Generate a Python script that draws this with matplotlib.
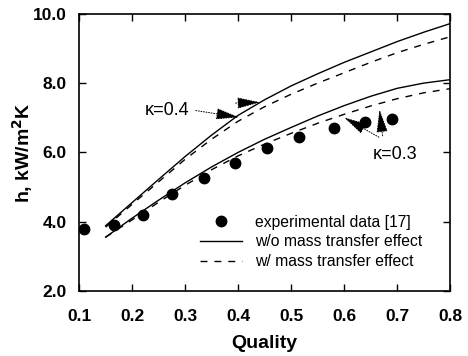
import numpy as np
import matplotlib.pyplot as plt

plt.rcParams['font.family'] = ['Liberation Sans', 'DejaVu Sans']

# experimental data [17]
x_exp = [0.11, 0.165, 0.22, 0.275, 0.335, 0.395, 0.455, 0.515, 0.58, 0.64, 0.69]
h_exp = [3.8, 3.9, 4.2, 4.8, 5.25, 5.7, 6.14, 6.45, 6.7, 6.88, 6.96]

# model curves
x_mod = [0.15, 0.2, 0.25, 0.3, 0.35, 0.4, 0.45, 0.5, 0.55, 0.6, 0.65, 0.7, 0.75, 0.8]
h_k04_wo = [3.88, 4.55, 5.22, 5.88, 6.5, 7.07, 7.52, 7.92, 8.27, 8.6, 8.9, 9.2, 9.47, 9.72]
h_k04_w = [3.84, 4.5, 5.15, 5.8, 6.38, 6.9, 7.32, 7.68, 8.0, 8.3, 8.6, 8.88, 9.12, 9.34]
h_k03_wo = [3.55, 4.1, 4.62, 5.12, 5.58, 6.0, 6.38, 6.72, 7.05, 7.35, 7.62, 7.85, 8.0, 8.1]
h_k03_w = [3.55, 4.05, 4.56, 5.05, 5.5, 5.9, 6.24, 6.55, 6.84, 7.1, 7.34, 7.55, 7.72, 7.84]

fig = plt.figure(figsize=(4.68, 3.56), dpi=100)
ax = fig.add_axes([0.169, 0.183, 0.793, 0.778])

ax.plot(x_exp, h_exp, 'o', color='k', markersize=7.5, label='experimental data [17]')
ax.plot(x_mod, h_k04_wo, '-', color='k', lw=1.0, label='w/o mass transfer effect')
ax.plot(x_mod, h_k04_w, '--', color='k', lw=1.0, dashes=(5, 5), label='w/ mass transfer effect')
ax.plot(x_mod, h_k03_wo, '-', color='k', lw=1.0)
ax.plot(x_mod, h_k03_w, '--', color='k', lw=1.0, dashes=(5, 5))

arrow = dict(arrowstyle='-|>,head_length=0.9,head_width=0.22', linestyle=':',
             color='k', lw=0.7, mutation_scale=16)
ax.annotate('', xy=(0.407, 7.0), xytext=(0.315, 7.22), arrowprops=arrow)
ax.annotate('', xy=(0.447, 7.45), xytext=(0.39, 7.42), arrowprops=arrow)
ax.text(0.265, 7.2, 'κ=0.4', fontsize=13, ha='center', va='center')

ax.annotate('', xy=(0.666, 7.32), xytext=(0.673, 6.4), arrowprops=arrow)
ax.annotate('', xy=(0.595, 7.05), xytext=(0.67, 6.4), arrowprops=arrow)
ax.text(0.696, 5.93, 'κ=0.3', fontsize=13, ha='center', va='center')

ax.set_xlim(0.1, 0.8)
ax.set_ylim(2.0, 10.0)
ax.set_xticks(np.arange(0.1, 0.81, 0.1))
ax.set_yticks(np.arange(2.0, 10.01, 2.0))
ax.set_xticklabels(['0.1', '0.2', '0.3', '0.4', '0.5', '0.6', '0.7', '0.8'])
ax.set_yticklabels(['2.0', '4.0', '6.0', '8.0', '10.0'])
ax.tick_params(direction='in', top=True, right=True, length=5, width=1.0,
               labelsize=12.5)
ax.tick_params(axis='x', pad=13)
ax.tick_params(axis='y', pad=9)
for lab in ax.get_xticklabels() + ax.get_yticklabels():
    lab.set_fontweight('bold')
for s in ax.spines.values():
    s.set_linewidth(1.2)

ax.set_xlabel('Quality', fontsize=14, fontweight='bold', labelpad=8)
ax.set_ylabel('h, kW/m$\\mathbf{^2}$K', fontsize=14, fontweight='bold', labelpad=-2)

ax.legend(loc='upper left', bbox_to_anchor=(0.326, 0.275), frameon=False,
          fontsize=11.3, handlelength=2.7, handletextpad=0.8, borderpad=0,
          borderaxespad=0, labelspacing=0.3)

fig.savefig('out.png', dpi=100)
